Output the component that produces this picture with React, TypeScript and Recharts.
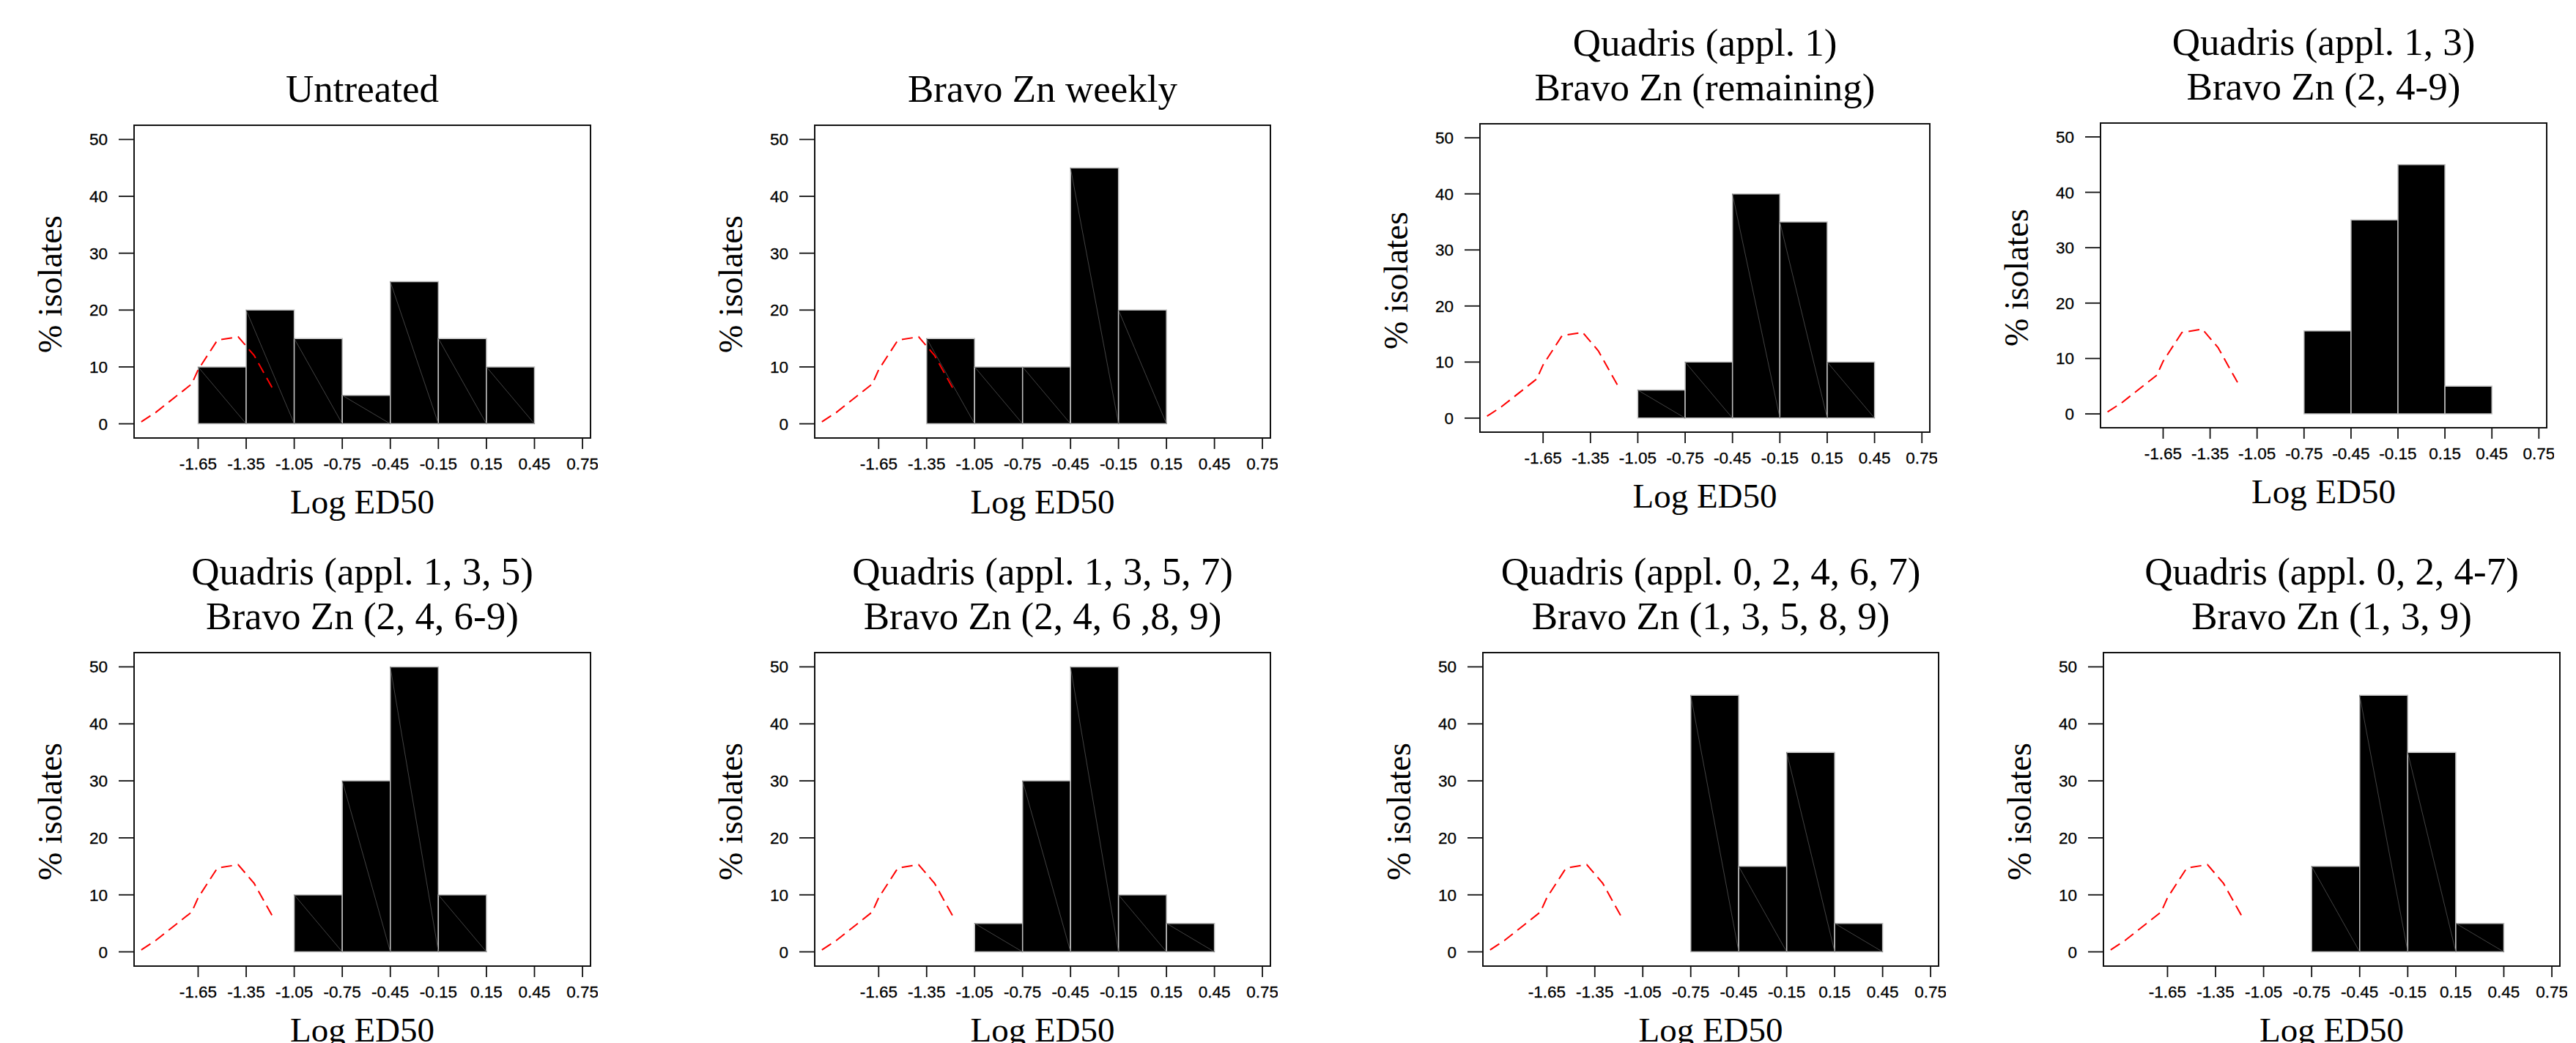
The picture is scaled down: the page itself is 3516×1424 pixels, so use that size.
import { ComposedChart, Line, XAxis, YAxis, ReferenceArea, ReferenceLine } from 'recharts';

// histogram bins (Log ED50), 0.3 wide
const binStarts = [-1.65, -1.35, -1.05, -0.75, -0.45, -0.15, 0.15];
const binWidth = 0.3;
const xTicks = [-1.65, -1.35, -1.05, -0.75, -0.45, -0.15, 0.15, 0.45, 0.75];
const yTicks = [0, 10, 20, 30, 40, 50];

// % isolates per bin
const untreated = [10, 20, 15, 5, 25, 15, 10];
const bravoWeekly = [0, 15, 10, 10, 45, 20, 0];
const quadris1 = [0, 0, 5, 10, 40, 35, 10];
const quadris13 = [0, 0, 0, 15, 35, 45, 5];
const quadris135 = [0, 0, 10, 30, 50, 10, 0];
const quadris1357 = [0, 0, 5, 30, 50, 10, 5];
const quadris02467 = [0, 0, 0, 45, 15, 35, 5];
const quadris024to7 = [0, 0, 0, 15, 45, 35, 5];

// baseline sensitivity curve (red dashed)
const baselineX = [-2.005, -1.915, -1.78, -1.69, -1.65, -1.53, -1.4, -1.3, -1.175];
const baselinePct = [0.35, 2.0, 5.0, 7.0, 9.5, 14.7, 15.3, 12.0, 5.7];

const titles = [
  ['Untreated'],
  ['Bravo Zn weekly'],
  ['Quadris (appl. 1)', 'Bravo Zn (remaining)'],
  ['Quadris (appl. 1, 3)', 'Bravo Zn (2, 4-9)'],
  ['Quadris (appl. 1, 3, 5)', 'Bravo Zn (2, 4, 6-9)'],
  ['Quadris (appl. 1, 3, 5, 7)', 'Bravo Zn (2, 4, 6 ,8, 9)'],
  ['Quadris (appl. 0, 2, 4, 6, 7)', 'Bravo Zn (1, 3, 5, 8, 9)'],
  ['Quadris (appl. 0, 2, 4-7)', 'Bravo Zn (1, 3, 9)'],
];
const series = [untreated, bravoWeekly, quadris1, quadris13, quadris135, quadris1357, quadris02467, quadris024to7];
const hatched = [true, true, true, false, true, true, true, true];

// plot box of each panel, in page pixels
const boxes = [
  { left: 183, top: 171, width: 623, height: 427 },
  { left: 1112, top: 171, width: 622, height: 427 },
  { left: 2020, top: 169, width: 614, height: 421 },
  { left: 2867, top: 168, width: 609, height: 416 },
  { left: 183, top: 891, width: 623, height: 428 },
  { left: 1112, top: 891, width: 622, height: 428 },
  { left: 2024, top: 891, width: 622, height: 428 },
  { left: 2871, top: 891, width: 623, height: 428 },
];

const X_DOMAIN: [number, number] = [-2.05, 0.8];
const Y_DOMAIN: [number, number] = [-2.5, 52.5];
const serif = '"Liberation Serif", "Times New Roman", serif';
const sans = '"Liberation Sans", Arial, sans-serif';

const curve = baselineX.map((x, i) => ({ x, pct: baselinePct[i] }));

function XTick(props: any) {
  const { x, y, payload } = props;
  return (
    <text
      x={x}
      y={y + 18}
      textAnchor="middle"
      fontSize={22.5}
      fontFamily={sans}
      fill="#000"
      stroke="#000"
      strokeWidth={0.3}
    >
      {Number(payload.value).toFixed(2)}
    </text>
  );
}

function YTick(props: any) {
  const { x, y, payload } = props;
  return (
    <text
      x={x}
      y={y + 8}
      textAnchor="end"
      fontSize={22.5}
      fontFamily={sans}
      fill="#000"
      stroke="#000"
      strokeWidth={0.3}
    >
      {payload.value}
    </text>
  );
}

function Panel({ idx }: { idx: number }) {
  const box = boxes[idx];
  const values = series[idx];
  const lines = titles[idx];
  const axisW = 180;
  const axisH = 100;
  const chartW = box.width + axisW + 10;
  const chartH = box.height + axisH + 10;
  const bins = binStarts
    .map((s, i) => ({ s, e: s + binWidth, v: values[i] }))
    .filter((b) => b.v > 0);

  return (
    <>
      <div
        style={{
          position: 'absolute',
          left: box.left,
          width: box.width,
          top: box.top - 19 - 61 * lines.length,
          fontFamily: serif,
          fontSize: 53,
          lineHeight: '61px',
          textAlign: 'center',
          whiteSpace: 'nowrap',
        }}
      >
        {lines.map((t) => (
          <div key={t}>{t}</div>
        ))}
      </div>
      <div
        style={{
          position: 'absolute',
          left: box.left - 114,
          top: box.top + box.height / 2 + 3,
          transform: 'translate(-50%, -50%) rotate(-90deg)',
          fontFamily: serif,
          fontSize: 46,
          lineHeight: 1,
          whiteSpace: 'nowrap',
        }}
      >
        % isolates
      </div>
      <div
        style={{
          position: 'absolute',
          left: box.left + box.width / 2,
          top: box.top + box.height + 87,
          transform: 'translate(-50%, -50%)',
          fontFamily: serif,
          fontSize: 47,
          lineHeight: 1,
          whiteSpace: 'nowrap',
        }}
      >
        Log ED50
      </div>
      <div style={{ position: 'absolute', left: box.left - axisW, top: box.top - 10 }}>
        <ComposedChart
          width={chartW}
          height={chartH}
          data={curve}
          margin={{ top: 10, right: 10, bottom: 0, left: 0 }}
        >
          <XAxis
            dataKey="x"
            type="number"
            domain={X_DOMAIN}
            allowDataOverflow
            ticks={xTicks}
            interval={0}
            height={axisH}
            axisLine={false}
            tickSize={15}
            tickMargin={10}
            tickLine={{ stroke: '#111', strokeWidth: 1.8 }}
            tick={XTick}
          />
          <YAxis
            type="number"
            domain={Y_DOMAIN}
            allowDataOverflow
            ticks={yTicks}
            interval={0}
            width={axisW}
            axisLine={false}
            tickSize={21}
            tickMargin={15}
            tickLine={{ stroke: '#111', strokeWidth: 1.8 }}
            tick={YTick}
          />
          <ReferenceArea
            x1={X_DOMAIN[0]}
            x2={X_DOMAIN[1]}
            y1={Y_DOMAIN[0]}
            y2={Y_DOMAIN[1]}
            fill="none"
            fillOpacity={0}
            stroke="#111"
            strokeWidth={2}
          />
          {bins.map((b) => (
            <ReferenceArea
              key={`bar${b.s}`}
              x1={b.s}
              x2={b.e}
              y1={0}
              y2={b.v}
              fill="#000"
              fillOpacity={1}
              stroke="#c0c0c0"
              strokeWidth={1.5}
            />
          ))}
          {hatched[idx] &&
            bins.map((b) => (
              <ReferenceLine
                key={`diag${b.s}`}
                segment={[
                  { x: b.s, y: b.v },
                  { x: b.e, y: 0 },
                ]}
                stroke="#4a4a4a"
                strokeWidth={0.9}
              />
            ))}
          <Line
            dataKey="pct"
            type="linear"
            stroke="#ff0000"
            strokeWidth={2}
            strokeDasharray="15 8"
            dot={false}
            activeDot={false}
            isAnimationActive={false}
          />
        </ComposedChart>
      </div>
    </>
  );
}

export default function App() {
  return (
    <div
      style={{
        position: 'absolute',
        left: 0,
        top: 0,
        width: 3516,
        height: 1424,
        overflow: 'hidden',
        background: '#fff',
      }}
    >
      {boxes.map((_, i) => (
        <Panel key={i} idx={i} />
      ))}
    </div>
  );
}
